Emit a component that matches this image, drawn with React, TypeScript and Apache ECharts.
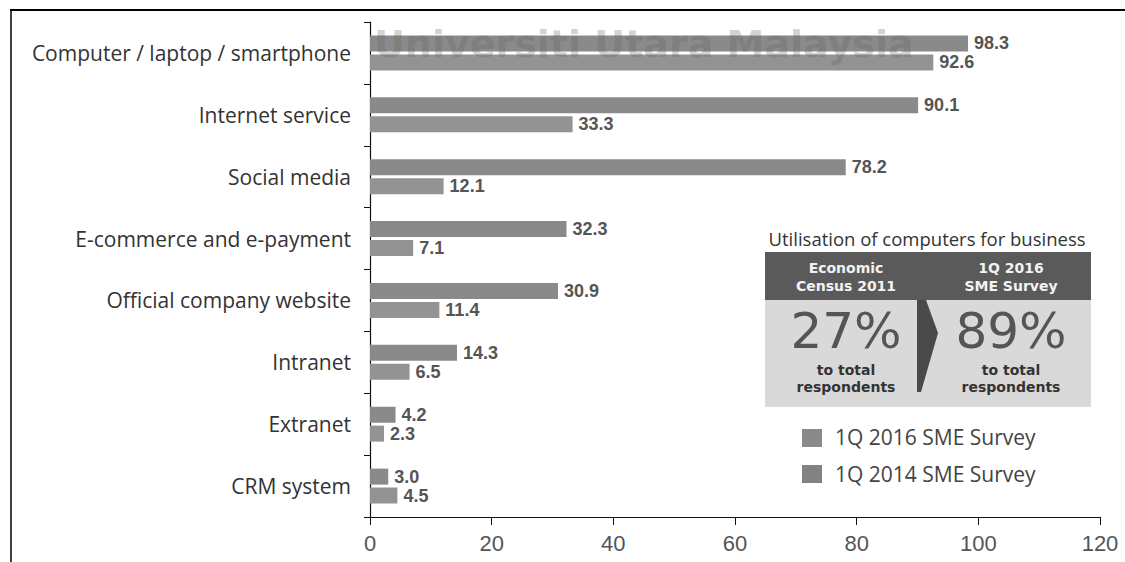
import React, { useEffect, useRef } from "react";
import * as echarts from "echarts";

const categories = [
  "Computer / laptop / smartphone",
  "Internet service",
  "Social media",
  "E-commerce and e-payment",
  "Official company website",
  "Intranet",
  "Extranet",
  "CRM system",
];
const survey2016 = [98.3, 90.1, 78.2, 32.3, 30.9, 14.3, 4.2, 3.0];
const survey2014 = [92.6, 33.3, 12.1, 7.1, 11.4, 6.5, 2.3, 4.5];
const seriesNames = ["1Q 2016 SME Survey", "1Q 2014 SME Survey"];
const xTicks = { min: 0, max: 120, interval: 20 };

export default function App() {
  const ref = useRef<HTMLDivElement>(null);
  useEffect(() => {
    if (!ref.current) return;
    const chart = echarts.init(ref.current, undefined, { renderer: "svg" });
    const labelStyle = {
      show: true,
      position: "right",
      distance: 6,
      fontFamily: "Liberation Sans",
      fontWeight: "bold",
      fontSize: 18,
      color: "#555",
      formatter: (p: any) => Number(p.value).toFixed(1),
    };
    const boxText = (x: number, y: number, text: string, extra: any) => ({
      type: "text",
      x,
      y,
      style: {
        text,
        fontFamily: "DejaVu Sans",
        align: "center",
        verticalAlign: "middle",
        ...extra,
      },
    });
    chart.setOption({
      animation: false,
      backgroundColor: "#fff",
      grid: { left: 370, right: 25, top: 22, bottom: 45, containLabel: false },
      xAxis: {
        type: "value",
        min: xTicks.min,
        max: xTicks.max,
        interval: xTicks.interval,
        axisLine: { show: true, lineStyle: { color: "#111", width: 1.2 } },
        axisTick: { show: true, length: 8, lineStyle: { color: "#111" } },
        splitLine: { show: false },
        axisLabel: {
          margin: 15,
          fontFamily: "Liberation Sans",
          fontSize: 22,
          color: "#555",
        },
      },
      yAxis: {
        type: "category",
        data: categories,
        inverse: true,
        axisLine: { show: true, lineStyle: { color: "#111", width: 1.2 } },
        axisTick: { show: true, length: 6, lineStyle: { color: "#111" } },
        axisLabel: {
          margin: 19,
          fontFamily: "Open Sans",
          fontSize: 21,
          color: "#333",
        },
      },
      series: [
        {
          name: seriesNames[0],
          type: "bar",
          data: survey2016,
          barWidth: 16,
          barGap: "18%",
          itemStyle: { color: "#8a8a8a" },
          label: labelStyle,
        },
        {
          name: seriesNames[1],
          type: "bar",
          data: survey2014,
          barWidth: 16,
          barGap: "18%",
          itemStyle: { color: "#939393" },
          label: labelStyle,
        },
      ],
      graphic: [
        { type: "line", shape: { x1: 10, y1: 10, x2: 1125, y2: 10 }, style: { stroke: "#000", lineWidth: 2 } },
        { type: "line", shape: { x1: 11, y1: 10, x2: 11, y2: 562 }, style: { stroke: "#000", lineWidth: 1.5 } },
        {
          type: "text",
          x: 374,
          y: 44,
          style: {
            text: "Universiti Utara Malaysia",
            fontFamily: "DejaVu Sans",
            fontWeight: "bold",
            fontSize: 38,
            fill: "rgba(100,100,100,0.3)",
            verticalAlign: "middle",
          },
          z: 100,
        },
        {
          type: "text",
          x: 927,
          y: 238,
          style: {
            text: "Utilisation of computers for business",
            fontFamily: "Open Sans",
            fontSize: 18.5,
            fill: "#333",
            align: "center",
            verticalAlign: "middle",
          },
        },
        { type: "rect", shape: { x: 765, y: 252, width: 326, height: 48 }, style: { fill: "#5a5a5a" } },
        { type: "rect", shape: { x: 765, y: 300, width: 326, height: 107 }, style: { fill: "#d9d9d9" } },
        {
          type: "polygon",
          shape: { points: [[917, 300], [926, 300], [938, 333], [921, 392], [917, 392]] },
          style: { fill: "#4a4a4a" },
        },
        boxText(846, 277, "Economic\nCensus 2011", { fontWeight: "bold", fontSize: 14, lineHeight: 18, fill: "#f2f2f2" }),
        boxText(1011, 277, "1Q 2016\nSME Survey", { fontWeight: "bold", fontSize: 14, lineHeight: 18, fill: "#f2f2f2" }),
        boxText(846, 331, "27%", { fontSize: 50, fill: "#555" }),
        boxText(1011, 331, "89%", { fontSize: 50, fill: "#555" }),
        {
          type: "text",
          x: 846,
          y: 361,
          style: {
            text: "to total\nrespondents",
            fontFamily: "DejaVu Sans",
            fontWeight: "bold",
            fontSize: 14,
            lineHeight: 17,
            fill: "#333",
            align: "center",
            verticalAlign: "top",
          },
        },
        {
          type: "text",
          x: 1011,
          y: 361,
          style: {
            text: "to total\nrespondents",
            fontFamily: "DejaVu Sans",
            fontWeight: "bold",
            fontSize: 14,
            lineHeight: 17,
            fill: "#333",
            align: "center",
            verticalAlign: "top",
          },
        },
        { type: "rect", shape: { x: 802, y: 429, width: 20, height: 18 }, style: { fill: "#8a8a8a" } },
        { type: "rect", shape: { x: 802, y: 465, width: 20, height: 18 }, style: { fill: "#828282" } },
        {
          type: "text",
          x: 835,
          y: 437,
          style: {
            text: seriesNames[0],
            fontFamily: "Open Sans",
            fontSize: 21,
            fill: "#444",
            verticalAlign: "middle",
          },
        },
        {
          type: "text",
          x: 835,
          y: 474,
          style: {
            text: seriesNames[1],
            fontFamily: "Open Sans",
            fontSize: 21,
            fill: "#444",
            verticalAlign: "middle",
          },
        },
      ],
    });
    return () => chart.dispose();
  }, []);
  return <div ref={ref} style={{ width: 1125, height: 562, position: "absolute", left: 0, top: 0 }} />;
}
